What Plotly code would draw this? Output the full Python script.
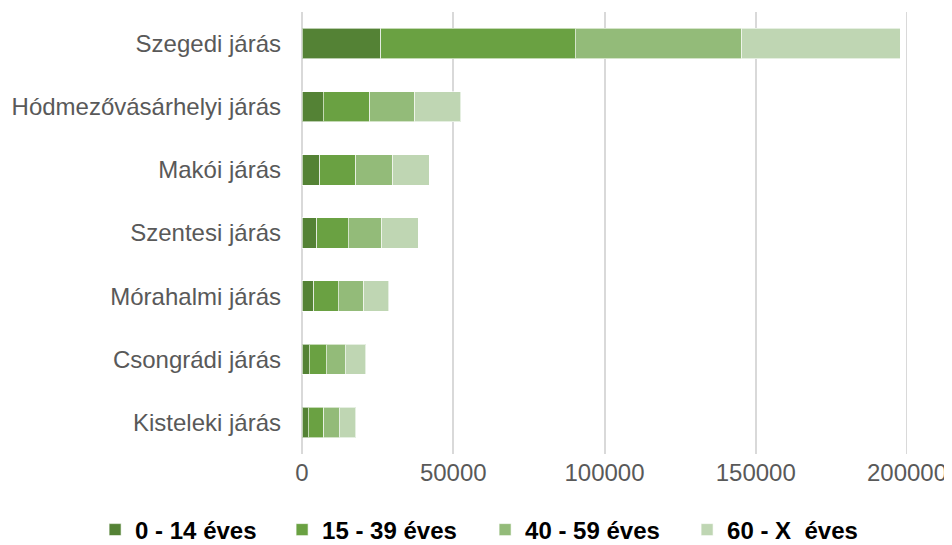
import plotly.graph_objects as go

categories = ["Szegedi járás", "Hódmezővásárhelyi járás", "Makói járás", "Szentesi járás",
              "Mórahalmi járás", "Csongrádi járás", "Kisteleki járás"]
series_names = ["0 - 14 éves", "15 - 39 éves", "40 - 59 éves", "60 - X  éves"]
age_0_14 = [26100, 7000, 5800, 4800, 3850, 2400, 2100]
age_15_39 = [64200, 15400, 11950, 10500, 8200, 5600, 5050]
age_40_59 = [55000, 14800, 12300, 11100, 8350, 6250, 5150]
age_60_x = [52500, 15300, 11950, 11950, 8250, 6900, 5450]
colors = ["#548235", "#6aa142", "#93bb79", "#bfd6b3"]
legend_widths = [142, 158, 157, 157]
x_max = 200000

fig = go.Figure()
for name, vals, col, lw in zip(series_names, [age_0_14, age_15_39, age_40_59, age_60_x],
                               colors, legend_widths):
    fig.add_trace(go.Bar(
        y=categories, x=vals, name=name, orientation="h", legendwidth=lw,
        marker=dict(color=col, line=dict(color="rgba(255,255,255,0.6)", width=1)),
    ))

# gridline at the right edge of the value axis (Plotly skips the edge gridline)
fig.add_vline(x=x_max, line=dict(color="#d9d9d9", width=2), layer="below")

fig.update_layout(
    barmode="stack",
    bargap=0.52,
    width=944, height=537,
    margin=dict(l=294, r=45, t=4, b=91, autoexpand=False),
    plot_bgcolor="white", paper_bgcolor="white",
    font=dict(family="Liberation Sans, Arial, sans-serif", color="#595959", size=24),
    xaxis=dict(range=[0, x_max], tickvals=[0, 50000, 100000, 150000, 200000],
               ticktext=["0", "50000", "100000", "150000", "200000"],
               showgrid=True, gridcolor="#d9d9d9", gridwidth=2,
               zeroline=True, zerolinecolor="#d9d9d9", zerolinewidth=2,
               tickfont=dict(size=24, color="#595959"), ticks="",
               ticklabelstandoff=2, automargin=False),
    yaxis=dict(categoryorder="array", categoryarray=categories, autorange="reversed",
               tickfont=dict(size=24, color="#595959"), ticks="",
               ticklabelstandoff=20, showgrid=False, automargin=False),
    legend=dict(orientation="h", x=-0.342, xanchor="left",
                y=-0.172, yanchor="middle",
                font=dict(size=24, color="#000000", weight="bold"),
                itemwidth=30, traceorder="normal"),
)

fig.write_html("out.html")
